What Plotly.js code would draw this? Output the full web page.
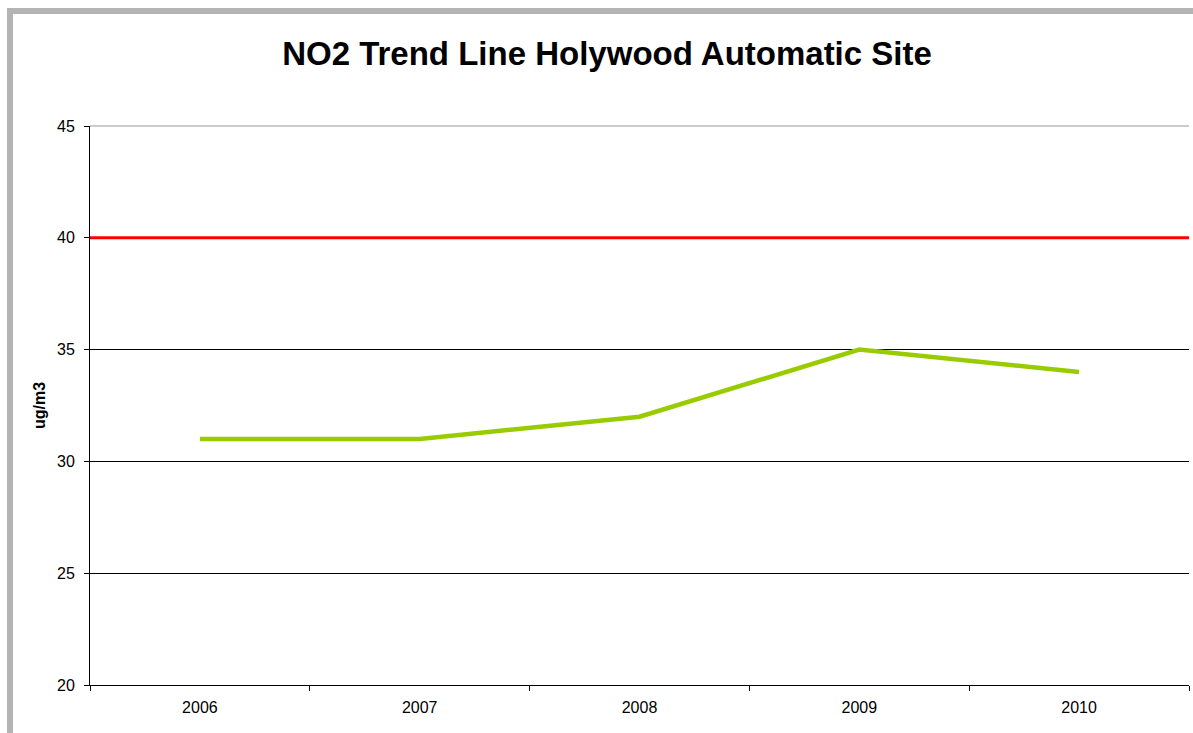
<!DOCTYPE html>
<html>
<head>
<meta charset="utf-8">
<script src="https://cdn.plot.ly/plotly-3.0.1.min.js"></script>
<style>html,body{margin:0;padding:0;background:#fff;}#chart{width:1193px;height:733px;}</style>
</head>
<body>
<div id="chart"></div>
<script>
const years = ["2006", "2007", "2008", "2009", "2010"];
const no2Values = [31, 31, 32, 35, 34];
const limitValue = 40;
const chartTitle = "NO2 Trend Line Holywood Automatic Site";
const yTitle = "ug/m3";

const font = "Liberation Sans, Arial, sans-serif";

const traces = [{
  x: years,
  y: no2Values,
  type: "scatter",
  mode: "lines",
  line: {color: "#99CC00", width: 4.5},
  showlegend: false,
  hoverinfo: "x+y"
}];

const layout = {
  width: 1193,
  height: 733,
  margin: {l: 90, r: 4, t: 126, b: 48},
  paper_bgcolor: "#ffffff",
  plot_bgcolor: "#ffffff",
  font: {family: font, size: 16, color: "#000"},
  title: {
    text: "<b>" + chartTitle + "</b>",
    font: {family: font, size: 33, color: "#000"},
    xref: "container", x: 607 / 1193, xanchor: "center",
    yref: "container", y: 1 - 53 / 733, yanchor: "middle"
  },
  xaxis: {
    type: "category",
    range: [-0.5, years.length - 0.5],
    tickson: "boundaries",
    ticks: "outside",
    ticklen: 5,
    tickcolor: "#000",
    showline: true,
    linecolor: "#000",
    linewidth: 1,
    showgrid: false,
    zeroline: false,
    ticklabelstandoff: 8,
    tickfont: {family: font, size: 16, color: "#000"},
    fixedrange: true
  },
  yaxis: {
    range: [20, 45],
    dtick: 5,
    tick0: 20,
    ticks: "outside",
    ticklen: 5,
    tickcolor: "#000",
    showline: true,
    linecolor: "#000",
    linewidth: 1,
    showgrid: true,
    gridcolor: "#000",
    gridwidth: 1,
    zeroline: false,
    ticklabelstandoff: 6,
    tickfont: {family: font, size: 16, color: "#000"},
    title: {text: "<b>" + yTitle + "</b>", font: {family: font, size: 16, color: "#000"}, standoff: 7},
    fixedrange: true
  },
  shapes: [
    {type: "line", xref: "paper", yref: "paper", x0: 0, x1: 1, y0: 1, y1: 1,
     line: {color: "#BBBBBB", width: 1.5}},
    {type: "line", xref: "paper", yref: "y", x0: 0, x1: 1, y0: limitValue, y1: limitValue,
     line: {color: "#FF0000", width: 3}},
    {type: "line", xref: "paper", yref: "paper", x0: -83 / 1099, x1: 1189 / 1099 - 90 / 1099 + 4 / 1099, y0: 1 + 115 / 559, y1: 1 + 115 / 559,
     line: {color: "#B4B4B4", width: 6}},
    {type: "line", xref: "paper", yref: "paper", x0: -80 / 1099, x1: -80 / 1099, y0: 1 + 118 / 559, y1: -48 / 559,
     line: {color: "#B4B4B4", width: 6}}
  ]
};

Plotly.newPlot("chart", traces, layout, {displayModeBar: false, staticPlot: true});
</script>
</body>
</html>
